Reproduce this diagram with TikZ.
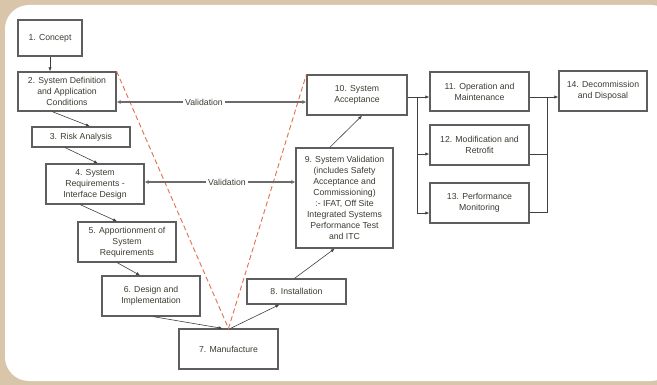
\documentclass[tikz,border=0pt]{standalone}
\usepackage{fontspec}
\setmainfont{Liberation Sans}
\usetikzlibrary{calc,arrows.meta,shadows}
\definecolor{beige}{HTML}{D9C6AA}
\definecolor{txt}{HTML}{3E3C32}
\definecolor{boxline}{HTML}{5E5E5E}
\definecolor{redd}{HTML}{E2704E}
\tikzset{
  stagebox/.style={draw=boxline, line width=1.2pt, fill=white, text=txt, align=center,
    font=\fontsize{8.7}{11}\selectfont, inner sep=1pt,
    drop shadow={shadow xshift=1pt, shadow yshift=-1pt, fill=black!45, opacity=1}},
  conn/.style={draw=black!75, line width=0.6pt, -{Latex[length=4pt,width=3.2pt]}},
  plain/.style={draw=black!75, line width=0.8pt},
  vtip/.style={draw=black!58, line width=2.4pt, -{Latex[length=4pt,width=4pt]}},
  vlabel/.style={fill=white, text=txt, font=\fontsize{8.7}{11}\selectfont, inner sep=2pt},
  vee/.style={draw=redd, line width=0.9pt, dash pattern=on 5pt off 3pt}
}
\begin{document}
\begin{tikzpicture}[x=1pt,y=-1pt]
\useasboundingbox (0,0) rectangle (657,385);
\fill[beige] (0,0) rectangle (657,385);
\fill[white, rounded corners=24pt] (5,5) rectangle (675,381);

% stages
\node[stagebox, minimum width=64pt, minimum height=36pt] (n1) at (50,38) {1. Concept};
\node[stagebox, minimum width=98pt, minimum height=39pt] (n2) at (67,91.5) {2. System Definition\\and Application\\Conditions};
\node[stagebox, minimum width=98pt, minimum height=20pt] (n3) at (81,137) {3. Risk Analysis};
\node[stagebox, minimum width=98pt, minimum height=40pt] (n4) at (95,184) {4. System\\Requirements -\\Interface Design};
\node[stagebox, minimum width=98pt, minimum height=40pt] (n5) at (127,242) {5. Apportionment of\\System\\Requirements};
\node[stagebox, minimum width=98pt, minimum height=40pt] (n6) at (151,296) {6. Design and\\Implementation};
\node[stagebox, minimum width=99pt, minimum height=40pt] (n7) at (228.5,349) {7. Manufacture};
\node[stagebox, minimum width=99pt, minimum height=25pt] (n8) at (296.5,291.5) {8. Installation};
\node[stagebox, minimum width=97pt, minimum height=100pt] (n9) at (344.5,198) {9. System Validation\\(includes Safety\\Acceptance and\\Commissioning)\\:- IFAT, Off Site\\Integrated Systems\\Performance Test\\and ITC};
\node[stagebox, minimum width=100pt, minimum height=40pt] (n10) at (357,95) {10. System\\Acceptance};
\node[stagebox, minimum width=99pt, minimum height=39pt] (n11) at (479.5,91.5) {11. Operation and\\Maintenance};
\node[stagebox, minimum width=99pt, minimum height=40pt] (n12) at (479.5,145) {12. Modification and\\Retrofit};
\node[stagebox, minimum width=99pt, minimum height=40pt] (n13) at (479.5,203) {13. Performance\\Monitoring};
\node[stagebox, minimum width=88pt, minimum height=40pt] (n14) at (603,91) {14. Decommission\\and Disposal};

% V dashed lines
\draw[vee] (n2.north east) -- (n7.north) -- (n10.north west);

% left leg
\draw[conn] (n1.south) -- (n2.north -| n1.south);
\draw[conn] ($(n2.south west)!0.35!(n2.south east)$) -- ($(n3.north west)!0.59!(n3.north east)$);
\draw[conn] ($(n3.south west)!0.34!(n3.south east)$) -- ($(n4.north west)!0.53!(n4.north east)$);
\draw[conn] ($(n4.south west)!0.35!(n4.south east)$) -- ($(n5.north west)!0.40!(n5.north east)$);
\draw[conn] ($(n5.south west)!0.40!(n5.south east)$) -- ($(n6.north west)!0.39!(n6.north east)$);
\draw[conn] ($(n6.south west)!0.52!(n6.south east)$) -- ($(n7.north west)!0.44!(n7.north east)$);
% right leg
\draw[conn] ($(n7.north west)!0.52!(n7.north east)$) -- ($(n8.south west)!0.33!(n8.south east)$);
\draw[conn] ($(n8.north west)!0.48!(n8.north east)$) -- ($(n9.south west)!0.40!(n9.south east)$);
\draw[conn] ($(n9.north west)!0.35!(n9.north east)$) -- ($(n10.south west)!0.55!(n10.south east)$);

% validation links
\coordinate (v1) at (204,102);
\coordinate (v2) at (227,182);
\draw[vtip] (v1) -- (n2.east |- v1);
\draw[vtip] (v1) -- (n10.west |- v1);
\node[vlabel] (lv1) at (v1) {Validation};
\draw[vtip] (v2) -- (n4.east |- v2);
\draw[vtip] (v2) -- (n9.west |- v2);
\node[vlabel] (lv2) at (v2) {Validation};

% operation fan-out
\coordinate (b1) at (417,97);
\coordinate (r2) at (417,154);
\coordinate (r3) at (417,213);
\draw[plain] (n10.east |- b1) -- (b1) -- (r3);
\draw[conn] (b1) -- (n11.west |- b1);
\draw[conn] (r2) -- (n12.west |- r2);
\draw[conn] (r3) -- (n13.west |- r3);

% fan-in to 14
\coordinate (c1) at (547,97);
\coordinate (c2) at (547,154);
\coordinate (c3) at (547,212);
\draw[plain] (n11.east |- c1) -- (c1);
\draw[plain] (n12.east |- c2) -- (c2);
\draw[plain] (n13.east |- c3) -- (c3) -- (c1);
\draw[conn] (c1) -- (n14.west |- c1);
\end{tikzpicture}
\end{document}
